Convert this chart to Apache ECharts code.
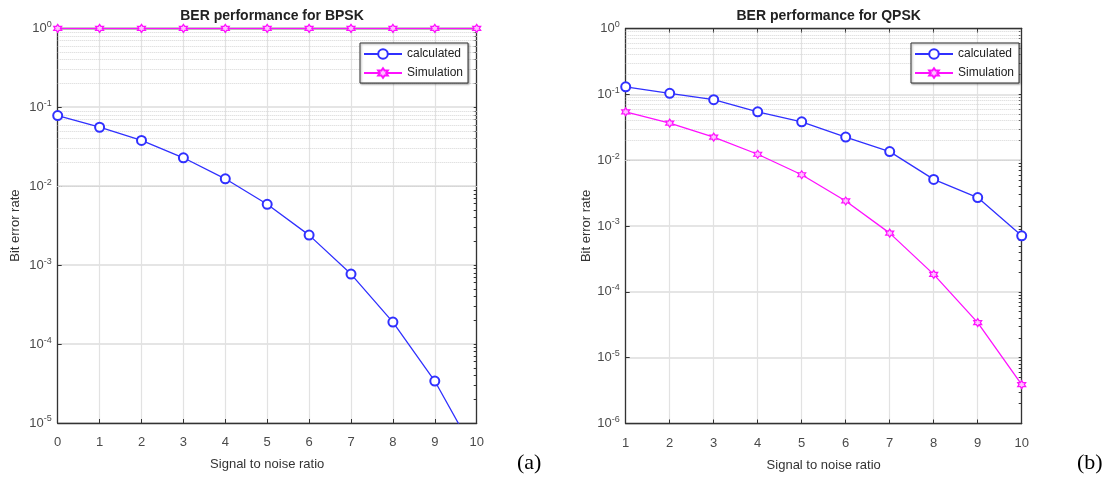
<!DOCTYPE html>
<html><head><meta charset="utf-8">
<script src="https://cdn.jsdelivr.net/npm/echarts@6/dist/echarts.min.js"></script>
<style>html,body{margin:0;padding:0;background:#fff}#c{width:1117px;height:483px}</style>
</head><body><div id="c"></div>
<script>
// ---- data ----
const bpskSnr = [0,1,2,3,4,5,6,7,8,9,10];
const bpskCalculated = [0.0785,0.0558,0.0380,0.0229,0.0124,0.0059,0.0024,7.7e-4,1.9e-4,3.4e-5,3.8e-6];
const bpskSimulation = [1,1,1,1,1,1,1,1,1,1,1];
const qpskSnr = [1,2,3,4,5,6,7,8,9,10];
const qpskCalculated = [0.130,0.1035,0.083,0.0543,0.0383,0.0224,0.0135,0.0051,0.0027,7.1e-4];
const qpskSimulation = [0.0543,0.0366,0.0224,0.0123,0.0060,0.0024,7.8e-4,1.84e-4,3.4e-5,3.9e-6];
const bpskDecades = [1e-5,1e-4,1e-3,1e-2,1e-1,1];
const qpskDecades = [1e-6,1e-5,1e-4,1e-3,1e-2,1e-1,1];
const minorMultipliers = [2,3,4,5,6,7,8,9];
const seriesNames = ['calculated','Simulation'];
const titles = ['BER performance for BPSK','BER performance for QPSK'];
const xName = 'Signal to noise ratio';
const yName = 'Bit error rate';
const panelLabels = ['(a)','(b)'];

function minorValues(decades){
  const out=[];
  for(let i=0;i<decades.length-1;i++) minorMultipliers.forEach(m=>out.push(decades[i]*m));
  return out;
}
function allTickValues(decades){ return decades.concat(minorValues(decades)); }

const FONT = 'Liberation Sans, Arial, sans-serif';
const BLUE = '#3030ff';
const MAG = '#ff10ff';
const hexagram = 'path://M0,-10 L2.89,-5 L8.66,-5 L5.77,0 L8.66,5 L2.89,5 L0,10 L-2.89,5 L-8.66,5 L-5.77,0 L-8.66,-5 L-2.89,-5 Z';

const grids = [
  {left:57.7, top:28.3, width:419, height:394.7},
  {left:625.7, top:28.5, width:396, height:395}
];

function yLabelFmt(v){
  const e = Math.round(Math.log10(v));
  return '{b|10}{s|' + e + '}';
}
const yRich = {
  b:{fontSize:13, color:'#4a4a4a', fontFamily:FONT},
  s:{fontSize:9, color:'#4a4a4a', fontFamily:FONT, padding:[0,0,8,0]}
};

function xAxesFor(gi, min, max){
  return [
    {gridIndex:gi, type:'value', min:min, max:max, interval:1, position:'bottom',
     axisLine:{show:true, onZero:false, lineStyle:{color:'#333', width:1.3}},
     axisTick:{show:true, inside:true, length:4, lineStyle:{color:'#333'}},
     axisLabel:{color:'#4a4a4a', fontSize:13, fontFamily:FONT, margin:13},
     splitLine:{show:true, lineStyle:{color:'#e2e2e2', width:1.2}},
     name:xName, nameLocation:'middle', nameGap:35,
     nameTextStyle:{color:'#333', fontSize:13, fontFamily:FONT}},
    {gridIndex:gi, type:'value', min:min, max:max, interval:1, position:'top',
     axisLine:{show:true, onZero:false, lineStyle:{color:'#333', width:1.3}},
     axisTick:{show:true, inside:true, length:4, lineStyle:{color:'#333'}},
     axisLabel:{show:false}, splitLine:{show:false}}
  ];
}
function yAxesFor(gi, decades, nameGap){
  const mn = decades[0], mx = decades[decades.length-1];
  return [
    {gridIndex:gi, type:'log', logBase:10, min:mn, max:mx, position:'left',
     axisLine:{show:true, onZero:false, lineStyle:{color:'#333', width:1.3}},
     axisTick:{show:true, inside:true, length:4, lineStyle:{color:'#333'}},
     axisLabel:{formatter:yLabelFmt, rich:yRich, margin:6},
     splitLine:{show:true, lineStyle:{color:'#dcdcdc', width:1.5}},
     name:yName, nameLocation:'middle', nameGap:nameGap,
     nameTextStyle:{color:'#333', fontSize:13, fontFamily:FONT}},
    {gridIndex:gi, type:'log', logBase:10, min:mn, max:mx, position:'right',
     axisLine:{show:true, onZero:false, lineStyle:{color:'#333', width:1.3}},
     axisTick:{show:true, inside:true, length:3, lineStyle:{color:'#333'}, customValues:allTickValues(decades)},
     axisLabel:{show:false}, splitLine:{show:false}}
  ];
}
// extra left-side tick-only axes for minor ticks
function leftMinorAxis(gi, decades){
  const mn = decades[0], mx = decades[decades.length-1];
  return {gridIndex:gi, type:'log', logBase:10, min:mn, max:mx, position:'left', offset:0,
     axisLine:{show:false, onZero:false},
     axisTick:{show:true, inside:true, length:3, lineStyle:{color:'#333'}, customValues:minorValues(decades)},
     axisLabel:{show:false}, splitLine:{show:false}};
}

function minorGrid(decades){
  return {silent:true, symbol:'none', z:1, animation:false,
    label:{show:false}, emphasis:{disabled:true},
    lineStyle:{type:'dotted', color:'#d6d6d6', width:1},
    data:minorValues(decades).map(v=>({yAxis:v}))};
}

function calcSeries(xi, yi, xs, ys, decades){
  return {name:seriesNames[0], type:'line', xAxisIndex:xi, yAxisIndex:yi,
    data:xs.map((x,i)=>[x,ys[i]]), symbol:'emptyCircle', symbolSize:9,
    lineStyle:{color:BLUE, width:1.3}, itemStyle:{color:BLUE, borderColor:BLUE, borderWidth:1.3},
    z:3, markLine:minorGrid(decades)};
}
function simSeries(xi, yi, xs, ys){
  return {name:seriesNames[1], type:'line', xAxisIndex:xi, yAxisIndex:yi,
    data:xs.map((x,i)=>[x,ys[i]]), symbol:hexagram, symbolSize:8,
    lineStyle:{color:MAG, width:1.3}, itemStyle:{color:'#ffc0ff', borderColor:MAG, borderWidth:1.2},
    z:3};
}

function legendAt(left){
  return {left:left, top:43, orient:'vertical', data:seriesNames,
    itemWidth:38, itemHeight:12, itemGap:7,
    padding:[5,5,4,3], backgroundColor:'#fff',
    borderColor:'#333', borderWidth:1,
    shadowColor:'rgba(0,0,0,0.35)', shadowBlur:2, shadowOffsetX:1, shadowOffsetY:1,
    textStyle:{color:'#222', fontSize:12, fontFamily:FONT}, selectedMode:false};
}

const option = {
  animation:false,
  backgroundColor:'#fff',
  title:[
    {text:titles[0], left:267, textAlign:'center', top:4,
     textStyle:{fontSize:14, fontWeight:'bold', color:'#222', fontFamily:FONT}},
    {text:titles[1], left:823.7, textAlign:'center', top:4,
     textStyle:{fontSize:14, fontWeight:'bold', color:'#222', fontFamily:FONT}}
  ],
  legend:[legendAt(360), legendAt(911)],
  grid:grids.map(g=>Object.assign({show:false, containLabel:false}, g)),
  xAxis:xAxesFor(0, bpskSnr[0], bpskSnr[bpskSnr.length-1]).concat(xAxesFor(1, qpskSnr[0], qpskSnr[qpskSnr.length-1])),
  yAxis:yAxesFor(0, bpskDecades, 36).concat(yAxesFor(1, qpskDecades, 30)),
  series:[
    calcSeries(0,0,bpskSnr,bpskCalculated,bpskDecades),
    simSeries(0,0,bpskSnr,bpskSimulation),
    calcSeries(2,2,qpskSnr,qpskCalculated,qpskDecades),
    simSeries(2,2,qpskSnr,qpskSimulation)
  ],
  graphic:[
    {type:'text', left:517, top:452, style:{text:panelLabels[0], font:'22px "Liberation Serif", "Times New Roman", serif', fill:'#000'}},
    {type:'text', left:1077, top:452, style:{text:panelLabels[1], font:'22px "Liberation Serif", "Times New Roman", serif', fill:'#000'}}
  ]
};
const chart = echarts.init(document.getElementById('c'), null, {renderer:'canvas'});
chart.setOption(option);
</script>
</body></html>
